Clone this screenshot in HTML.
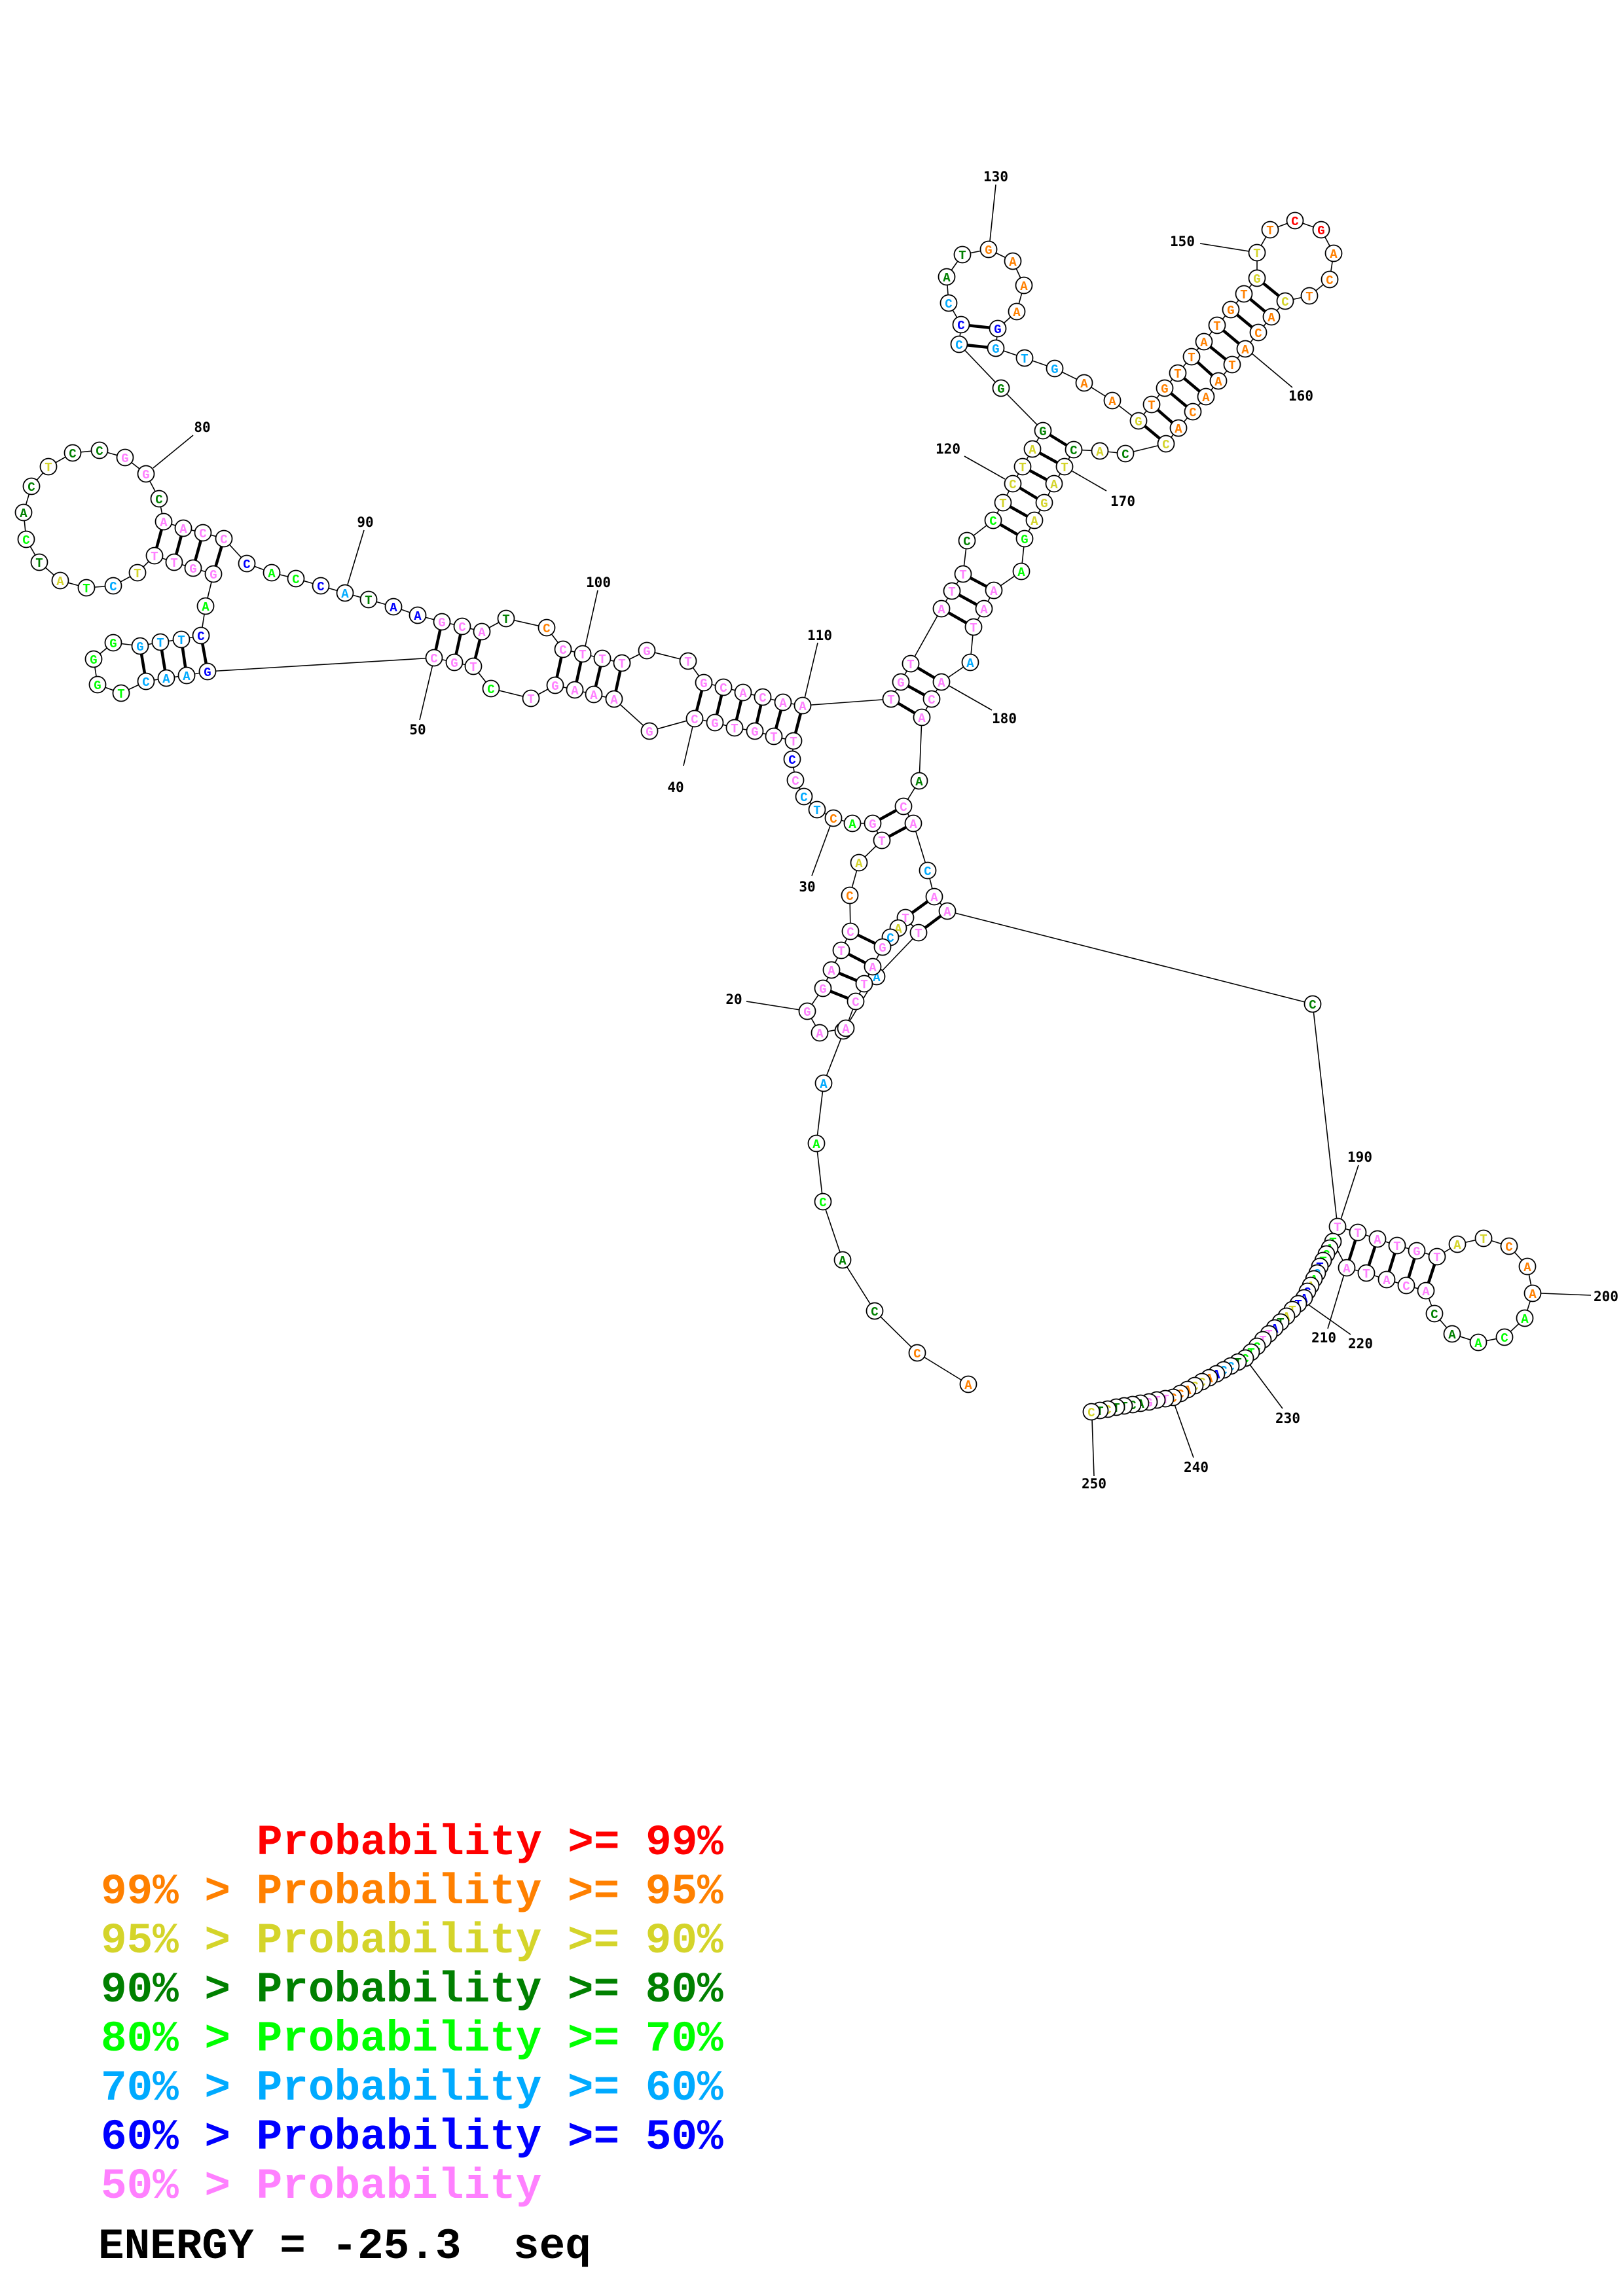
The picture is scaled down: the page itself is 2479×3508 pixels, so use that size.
<!DOCTYPE html>
<html><head><meta charset="utf-8"><style>
html,body{margin:0;padding:0;background:#fff}
svg{display:block}
.n{fill:#fff;stroke:#000;stroke-width:1.8}
.t{font-family:"Liberation Mono",monospace;font-weight:bold;font-size:19px;text-anchor:middle}
.lb{font-family:"DejaVu Sans Mono","Liberation Mono",monospace;font-weight:bold;font-size:21px;text-anchor:middle}
.lg{font-family:"Liberation Mono",monospace;font-weight:bold;font-size:66px;white-space:pre}
.r{fill:#ff0000}.o{fill:#ff8000}.y{fill:#d4d42a}.d{fill:#008000}.g{fill:#00ff00}.l{fill:#00aaff}.b{fill:#0000ff}.p{fill:#ff80ff}
</style></head><body>
<svg width="2479" height="3508" viewBox="0 0 2479 3508" xmlns="http://www.w3.org/2000/svg">
<rect width="2479" height="3508" fill="#fff"/>
<polyline fill="none" stroke="#000" stroke-width="1.6" points="1479,2115 1401,2067 1336,2003 1287,1925 1257,1836 1247,1747 1258,1655 1290,1573 1339,1492 1403,1425 1383,1402 1372,1418 1360,1432 1348,1447 1333,1477 1320,1503 1307,1530 1292,1571 1252,1578 1233,1545 1257,1510 1270,1482 1285,1452 1299,1423 1298,1368 1312,1318 1347,1284 1333,1258 1302,1258 1273,1250 1248,1237 1228,1217 1215,1192 1210,1160 1212,1132 1182,1125 1153,1117 1122,1112 1092,1104 1061,1098 992,1117 938,1068 907,1061 878,1054 848,1047 811,1067 750,1052 723,1018 694,1012 663,1005 317,1026 285,1032 254,1036 223,1041 185,1059 149,1046 143,1007 173,982 214,987 245,981 277,977 307,971 314,926 326,877 295,868 266,859 236,849 210,875 173,895 132,898 92,887 60,859 40,824 36,783 48,743 74,713 111,692 152,688 191,699 223,724 243,762 250,797 280,807 310,814 342,823 377,861 415,875 452,884 490,895 527,906 563,916 601,927 638,940 675,950 706,957 736,965 773,945 835,959 860,992 890,999 920,1006 950,1013 988,994 1051,1010 1075,1043 1105,1050 1135,1058 1165,1065 1196,1073 1226,1078 1361,1068 1376,1042 1391,1014 1438,930 1454,903 1471,877 1477,826 1517,795 1532,768 1547,739 1562,713 1577,686 1593,658 1529,593 1465,526 1468,496 1449,463 1446,423 1470,389 1510,381 1547,399 1564,436 1553,476 1524,502 1521,532 1565,547 1611,563 1656,585 1699,612 1739,643 1759,618 1779,593 1799,570 1820,545 1839,522 1859,497 1880,473 1900,449 1920,425 1920,386 1940,351 1978,337 2018,351 2037,387 2031,427 2000,452 1963,460 1942,484 1922,508 1902,533 1882,557 1861,582 1842,606 1822,629 1800,654 1781,678 1719,693 1680,689 1640,687 1626,713 1610,739 1595,768 1580,795 1565,823 1560,873 1518,902 1503,930 1487,958 1482,1012 1438,1042 1423,1068 1408,1096 1404,1193 1380,1232 1395,1258 1417,1330 1427,1370 1447,1392 2005,1534 2043,1874 2074,1883 2104,1893 2134,1903 2164,1911 2195,1920 2226,1901 2266,1892 2305,1904 2333,1935 2341,1976 2329,2014 2298,2043 2258,2051 2218,2038 2191,2007 2178,1972 2148,1964 2118,1955 2087,1945 2057,1937 2036,1897 2031,1907 2026,1916 2021,1926 2016,1935 2012,1945 2007,1954 2002,1964 1997,1973 1992,1983 1983,1992 1974,2001 1965,2011 1956,2020 1947,2029 1938,2038 1929,2047 1920,2057 1911,2066 1902,2075 1891,2081 1880,2087 1869,2093 1858,2099 1847,2105 1836,2111 1825,2117 1814,2123 1803,2129 1792,2135 1780,2137 1767,2139 1755,2142 1742,2144 1730,2146 1717,2148 1705,2150 1692,2153 1680,2155 1667,2157"/>
<g stroke="#000" stroke-width="4.5">
<line x1="1403" y1="1425" x2="1447" y2="1392"/><line x1="1383" y1="1402" x2="1427" y2="1370"/>
<line x1="1348" y1="1447" x2="1299" y2="1423"/><line x1="1333" y1="1477" x2="1285" y2="1452"/><line x1="1320" y1="1503" x2="1270" y2="1482"/><line x1="1307" y1="1530" x2="1257" y2="1510"/>
<line x1="1347" y1="1284" x2="1395" y2="1258"/><line x1="1333" y1="1258" x2="1380" y2="1232"/>
<line x1="1212" y1="1132" x2="1226" y2="1078"/><line x1="1182" y1="1125" x2="1196" y2="1073"/><line x1="1153" y1="1117" x2="1165" y2="1065"/><line x1="1122" y1="1112" x2="1135" y2="1058"/><line x1="1092" y1="1104" x2="1105" y2="1050"/><line x1="1061" y1="1098" x2="1075" y2="1043"/>
<line x1="938" y1="1068" x2="950" y2="1013"/><line x1="907" y1="1061" x2="920" y2="1006"/><line x1="878" y1="1054" x2="890" y2="999"/><line x1="848" y1="1047" x2="860" y2="992"/>
<line x1="723" y1="1018" x2="736" y2="965"/><line x1="694" y1="1012" x2="706" y2="957"/><line x1="663" y1="1005" x2="675" y2="950"/>
<line x1="317" y1="1026" x2="307" y2="971"/><line x1="285" y1="1032" x2="277" y2="977"/><line x1="254" y1="1036" x2="245" y2="981"/><line x1="223" y1="1041" x2="214" y2="987"/>
<line x1="326" y1="877" x2="342" y2="823"/><line x1="295" y1="868" x2="310" y2="814"/><line x1="266" y1="859" x2="280" y2="807"/><line x1="236" y1="849" x2="250" y2="797"/>
<line x1="1361" y1="1068" x2="1408" y2="1096"/><line x1="1376" y1="1042" x2="1423" y2="1068"/><line x1="1391" y1="1014" x2="1438" y2="1042"/>
<line x1="1438" y1="930" x2="1487" y2="958"/><line x1="1454" y1="903" x2="1503" y2="930"/><line x1="1471" y1="877" x2="1518" y2="902"/>
<line x1="1517" y1="795" x2="1565" y2="823"/><line x1="1532" y1="768" x2="1580" y2="795"/><line x1="1547" y1="739" x2="1595" y2="768"/><line x1="1562" y1="713" x2="1610" y2="739"/><line x1="1577" y1="686" x2="1626" y2="713"/><line x1="1593" y1="658" x2="1640" y2="687"/>
<line x1="1465" y1="526" x2="1521" y2="532"/><line x1="1468" y1="496" x2="1524" y2="502"/>
<line x1="1739" y1="643" x2="1781" y2="678"/><line x1="1759" y1="618" x2="1800" y2="654"/><line x1="1779" y1="593" x2="1822" y2="629"/><line x1="1799" y1="570" x2="1842" y2="606"/><line x1="1820" y1="545" x2="1861" y2="582"/><line x1="1839" y1="522" x2="1882" y2="557"/><line x1="1859" y1="497" x2="1902" y2="533"/><line x1="1880" y1="473" x2="1922" y2="508"/><line x1="1900" y1="449" x2="1942" y2="484"/><line x1="1920" y1="425" x2="1963" y2="460"/>
<line x1="2074" y1="1883" x2="2057" y2="1937"/><line x1="2104" y1="1893" x2="2087" y2="1945"/><line x1="2134" y1="1903" x2="2118" y2="1955"/><line x1="2164" y1="1911" x2="2148" y2="1964"/><line x1="2195" y1="1920" x2="2178" y2="1972"/>
</g>
<g stroke="#000" stroke-width="1.6">
<line x1="1140" y1="1530" x2="1222" y2="1543"/><line x1="1240" y1="1338" x2="1268" y2="1262"/><line x1="1044" y1="1170" x2="1058" y2="1110"/><line x1="641" y1="1100" x2="661" y2="1015"/><line x1="295" y1="665" x2="234" y2="715"/><line x1="556" y1="810" x2="531" y2="893"/><line x1="913" y1="902" x2="894" y2="987"/><line x1="1249" y1="982" x2="1229" y2="1067"/><line x1="1473" y1="697" x2="1535" y2="732"/><line x1="1521" y1="282" x2="1512" y2="368"/><line x1="1833" y1="372" x2="1908" y2="384"/><line x1="1912" y1="540" x2="1974" y2="592"/><line x1="1638" y1="720" x2="1690" y2="750"/><line x1="1450" y1="1048" x2="1515" y2="1085"/><line x1="2075" y1="1780" x2="2048" y2="1863"/><line x1="2354" y1="1976" x2="2430" y2="1979"/><line x1="2053" y1="1947" x2="2028" y2="2030"/><line x1="1998" y1="1993" x2="2063" y2="2039"/><line x1="1909" y1="2085" x2="1959" y2="2152"/><line x1="1794" y1="2146" x2="1823" y2="2227"/><line x1="1668" y1="2168" x2="1671" y2="2255"/>
</g>
<g class="t">
<circle class="n" cx="1479" cy="2115" r="12.5"/><text x="1479" y="2122" class="o">A</text>
<circle class="n" cx="1401" cy="2067" r="12.5"/><text x="1401" y="2074" class="o">C</text>
<circle class="n" cx="1336" cy="2003" r="12.5"/><text x="1336" y="2010" class="d">C</text>
<circle class="n" cx="1287" cy="1925" r="12.5"/><text x="1287" y="1932" class="d">A</text>
<circle class="n" cx="1257" cy="1836" r="12.5"/><text x="1257" y="1843" class="g">C</text>
<circle class="n" cx="1247" cy="1747" r="12.5"/><text x="1247" y="1754" class="g">A</text>
<circle class="n" cx="1258" cy="1655" r="12.5"/><text x="1258" y="1662" class="l">A</text>
<circle class="n" cx="1288" cy="1575" r="12.5"/><text x="1288" y="1582" class="p">A</text>
<circle class="n" cx="1339" cy="1492" r="12.5"/><text x="1339" y="1499" class="l">A</text>
<circle class="n" cx="1403" cy="1425" r="12.5"/><text x="1403" y="1432" class="p">T</text>
<circle class="n" cx="1383" cy="1402" r="12.5"/><text x="1383" y="1409" class="p">T</text>
<circle class="n" cx="1372" cy="1418" r="12.5"/><text x="1372" y="1425" class="y">A</text>
<circle class="n" cx="1360" cy="1432" r="12.5"/><text x="1360" y="1439" class="l">C</text>
<circle class="n" cx="1348" cy="1447" r="12.5"/><text x="1348" y="1454" class="p">G</text>
<circle class="n" cx="1333" cy="1477" r="12.5"/><text x="1333" y="1484" class="p">A</text>
<circle class="n" cx="1320" cy="1503" r="12.5"/><text x="1320" y="1510" class="p">T</text>
<circle class="n" cx="1307" cy="1530" r="12.5"/><text x="1307" y="1537" class="p">C</text>
<circle class="n" cx="1292" cy="1571" r="12.5"/><text x="1292" y="1578" class="p">A</text>
<circle class="n" cx="1252" cy="1578" r="12.5"/><text x="1252" y="1585" class="p">A</text>
<circle class="n" cx="1233" cy="1545" r="12.5"/><text x="1233" y="1552" class="p">G</text>
<circle class="n" cx="1257" cy="1510" r="12.5"/><text x="1257" y="1517" class="p">G</text>
<circle class="n" cx="1270" cy="1482" r="12.5"/><text x="1270" y="1489" class="p">A</text>
<circle class="n" cx="1285" cy="1452" r="12.5"/><text x="1285" y="1459" class="p">T</text>
<circle class="n" cx="1299" cy="1423" r="12.5"/><text x="1299" y="1430" class="p">C</text>
<circle class="n" cx="1298" cy="1368" r="12.5"/><text x="1298" y="1375" class="o">C</text>
<circle class="n" cx="1312" cy="1318" r="12.5"/><text x="1312" y="1325" class="y">A</text>
<circle class="n" cx="1347" cy="1284" r="12.5"/><text x="1347" y="1291" class="p">T</text>
<circle class="n" cx="1333" cy="1258" r="12.5"/><text x="1333" y="1265" class="p">G</text>
<circle class="n" cx="1302" cy="1258" r="12.5"/><text x="1302" y="1265" class="g">A</text>
<circle class="n" cx="1273" cy="1250" r="12.5"/><text x="1273" y="1257" class="o">C</text>
<circle class="n" cx="1248" cy="1237" r="12.5"/><text x="1248" y="1244" class="l">T</text>
<circle class="n" cx="1228" cy="1217" r="12.5"/><text x="1228" y="1224" class="l">C</text>
<circle class="n" cx="1215" cy="1192" r="12.5"/><text x="1215" y="1199" class="p">C</text>
<circle class="n" cx="1210" cy="1160" r="12.5"/><text x="1210" y="1167" class="b">C</text>
<circle class="n" cx="1212" cy="1132" r="12.5"/><text x="1212" y="1139" class="p">T</text>
<circle class="n" cx="1182" cy="1125" r="12.5"/><text x="1182" y="1132" class="p">T</text>
<circle class="n" cx="1153" cy="1117" r="12.5"/><text x="1153" y="1124" class="p">G</text>
<circle class="n" cx="1122" cy="1112" r="12.5"/><text x="1122" y="1119" class="p">T</text>
<circle class="n" cx="1092" cy="1104" r="12.5"/><text x="1092" y="1111" class="p">G</text>
<circle class="n" cx="1061" cy="1098" r="12.5"/><text x="1061" y="1105" class="p">C</text>
<circle class="n" cx="992" cy="1117" r="12.5"/><text x="992" y="1124" class="p">G</text>
<circle class="n" cx="938" cy="1068" r="12.5"/><text x="938" y="1075" class="p">A</text>
<circle class="n" cx="907" cy="1061" r="12.5"/><text x="907" y="1068" class="p">A</text>
<circle class="n" cx="878" cy="1054" r="12.5"/><text x="878" y="1061" class="p">A</text>
<circle class="n" cx="848" cy="1047" r="12.5"/><text x="848" y="1054" class="p">G</text>
<circle class="n" cx="811" cy="1067" r="12.5"/><text x="811" y="1074" class="p">T</text>
<circle class="n" cx="750" cy="1052" r="12.5"/><text x="750" y="1059" class="g">C</text>
<circle class="n" cx="723" cy="1018" r="12.5"/><text x="723" y="1025" class="p">T</text>
<circle class="n" cx="694" cy="1012" r="12.5"/><text x="694" y="1019" class="p">G</text>
<circle class="n" cx="663" cy="1005" r="12.5"/><text x="663" y="1012" class="p">C</text>
<circle class="n" cx="317" cy="1026" r="12.5"/><text x="317" y="1033" class="b">G</text>
<circle class="n" cx="285" cy="1032" r="12.5"/><text x="285" y="1039" class="l">A</text>
<circle class="n" cx="254" cy="1036" r="12.5"/><text x="254" y="1043" class="l">A</text>
<circle class="n" cx="223" cy="1041" r="12.5"/><text x="223" y="1048" class="l">C</text>
<circle class="n" cx="185" cy="1059" r="12.5"/><text x="185" y="1066" class="g">T</text>
<circle class="n" cx="149" cy="1046" r="12.5"/><text x="149" y="1053" class="g">G</text>
<circle class="n" cx="143" cy="1007" r="12.5"/><text x="143" y="1014" class="g">G</text>
<circle class="n" cx="173" cy="982" r="12.5"/><text x="173" y="989" class="g">G</text>
<circle class="n" cx="214" cy="987" r="12.5"/><text x="214" y="994" class="l">G</text>
<circle class="n" cx="245" cy="981" r="12.5"/><text x="245" y="988" class="l">T</text>
<circle class="n" cx="277" cy="977" r="12.5"/><text x="277" y="984" class="l">T</text>
<circle class="n" cx="307" cy="971" r="12.5"/><text x="307" y="978" class="b">C</text>
<circle class="n" cx="314" cy="926" r="12.5"/><text x="314" y="933" class="g">A</text>
<circle class="n" cx="326" cy="877" r="12.5"/><text x="326" y="884" class="p">G</text>
<circle class="n" cx="295" cy="868" r="12.5"/><text x="295" y="875" class="p">G</text>
<circle class="n" cx="266" cy="859" r="12.5"/><text x="266" y="866" class="p">T</text>
<circle class="n" cx="236" cy="849" r="12.5"/><text x="236" y="856" class="p">T</text>
<circle class="n" cx="210" cy="875" r="12.5"/><text x="210" y="882" class="y">T</text>
<circle class="n" cx="173" cy="895" r="12.5"/><text x="173" y="902" class="l">C</text>
<circle class="n" cx="132" cy="898" r="12.5"/><text x="132" y="905" class="g">T</text>
<circle class="n" cx="92" cy="887" r="12.5"/><text x="92" y="894" class="y">A</text>
<circle class="n" cx="60" cy="859" r="12.5"/><text x="60" y="866" class="d">T</text>
<circle class="n" cx="40" cy="824" r="12.5"/><text x="40" y="831" class="g">C</text>
<circle class="n" cx="36" cy="783" r="12.5"/><text x="36" y="790" class="d">A</text>
<circle class="n" cx="48" cy="743" r="12.5"/><text x="48" y="750" class="d">C</text>
<circle class="n" cx="74" cy="713" r="12.5"/><text x="74" y="720" class="y">T</text>
<circle class="n" cx="111" cy="692" r="12.5"/><text x="111" y="699" class="d">C</text>
<circle class="n" cx="152" cy="688" r="12.5"/><text x="152" y="695" class="d">C</text>
<circle class="n" cx="191" cy="699" r="12.5"/><text x="191" y="706" class="p">G</text>
<circle class="n" cx="223" cy="724" r="12.5"/><text x="223" y="731" class="p">G</text>
<circle class="n" cx="243" cy="762" r="12.5"/><text x="243" y="769" class="d">C</text>
<circle class="n" cx="250" cy="797" r="12.5"/><text x="250" y="804" class="p">A</text>
<circle class="n" cx="280" cy="807" r="12.5"/><text x="280" y="814" class="p">A</text>
<circle class="n" cx="310" cy="814" r="12.5"/><text x="310" y="821" class="p">C</text>
<circle class="n" cx="342" cy="823" r="12.5"/><text x="342" y="830" class="p">C</text>
<circle class="n" cx="377" cy="861" r="12.5"/><text x="377" y="868" class="b">C</text>
<circle class="n" cx="415" cy="875" r="12.5"/><text x="415" y="882" class="g">A</text>
<circle class="n" cx="452" cy="884" r="12.5"/><text x="452" y="891" class="g">C</text>
<circle class="n" cx="490" cy="895" r="12.5"/><text x="490" y="902" class="b">C</text>
<circle class="n" cx="527" cy="906" r="12.5"/><text x="527" y="913" class="l">A</text>
<circle class="n" cx="563" cy="916" r="12.5"/><text x="563" y="923" class="d">T</text>
<circle class="n" cx="601" cy="927" r="12.5"/><text x="601" y="934" class="b">A</text>
<circle class="n" cx="638" cy="940" r="12.5"/><text x="638" y="947" class="b">A</text>
<circle class="n" cx="675" cy="950" r="12.5"/><text x="675" y="957" class="p">G</text>
<circle class="n" cx="706" cy="957" r="12.5"/><text x="706" y="964" class="p">C</text>
<circle class="n" cx="736" cy="965" r="12.5"/><text x="736" y="972" class="p">A</text>
<circle class="n" cx="773" cy="945" r="12.5"/><text x="773" y="952" class="d">T</text>
<circle class="n" cx="835" cy="959" r="12.5"/><text x="835" y="966" class="o">C</text>
<circle class="n" cx="860" cy="992" r="12.5"/><text x="860" y="999" class="p">C</text>
<circle class="n" cx="890" cy="999" r="12.5"/><text x="890" y="1006" class="p">T</text>
<circle class="n" cx="920" cy="1006" r="12.5"/><text x="920" y="1013" class="p">T</text>
<circle class="n" cx="950" cy="1013" r="12.5"/><text x="950" y="1020" class="p">T</text>
<circle class="n" cx="988" cy="994" r="12.5"/><text x="988" y="1001" class="p">G</text>
<circle class="n" cx="1051" cy="1010" r="12.5"/><text x="1051" y="1017" class="p">T</text>
<circle class="n" cx="1075" cy="1043" r="12.5"/><text x="1075" y="1050" class="p">G</text>
<circle class="n" cx="1105" cy="1050" r="12.5"/><text x="1105" y="1057" class="p">C</text>
<circle class="n" cx="1135" cy="1058" r="12.5"/><text x="1135" y="1065" class="p">A</text>
<circle class="n" cx="1165" cy="1065" r="12.5"/><text x="1165" y="1072" class="p">C</text>
<circle class="n" cx="1196" cy="1073" r="12.5"/><text x="1196" y="1080" class="p">A</text>
<circle class="n" cx="1226" cy="1078" r="12.5"/><text x="1226" y="1085" class="p">A</text>
<circle class="n" cx="1361" cy="1068" r="12.5"/><text x="1361" y="1075" class="p">T</text>
<circle class="n" cx="1376" cy="1042" r="12.5"/><text x="1376" y="1049" class="p">G</text>
<circle class="n" cx="1391" cy="1014" r="12.5"/><text x="1391" y="1021" class="p">T</text>
<circle class="n" cx="1438" cy="930" r="12.5"/><text x="1438" y="937" class="p">A</text>
<circle class="n" cx="1454" cy="903" r="12.5"/><text x="1454" y="910" class="p">T</text>
<circle class="n" cx="1471" cy="877" r="12.5"/><text x="1471" y="884" class="p">T</text>
<circle class="n" cx="1477" cy="826" r="12.5"/><text x="1477" y="833" class="d">C</text>
<circle class="n" cx="1517" cy="795" r="12.5"/><text x="1517" y="802" class="g">C</text>
<circle class="n" cx="1532" cy="768" r="12.5"/><text x="1532" y="775" class="y">T</text>
<circle class="n" cx="1547" cy="739" r="12.5"/><text x="1547" y="746" class="y">C</text>
<circle class="n" cx="1562" cy="713" r="12.5"/><text x="1562" y="720" class="y">T</text>
<circle class="n" cx="1577" cy="686" r="12.5"/><text x="1577" y="693" class="y">A</text>
<circle class="n" cx="1593" cy="658" r="12.5"/><text x="1593" y="665" class="d">G</text>
<circle class="n" cx="1529" cy="593" r="12.5"/><text x="1529" y="600" class="d">G</text>
<circle class="n" cx="1465" cy="526" r="12.5"/><text x="1465" y="533" class="l">C</text>
<circle class="n" cx="1468" cy="496" r="12.5"/><text x="1468" y="503" class="b">C</text>
<circle class="n" cx="1449" cy="463" r="12.5"/><text x="1449" y="470" class="l">C</text>
<circle class="n" cx="1446" cy="423" r="12.5"/><text x="1446" y="430" class="d">A</text>
<circle class="n" cx="1470" cy="389" r="12.5"/><text x="1470" y="396" class="d">T</text>
<circle class="n" cx="1510" cy="381" r="12.5"/><text x="1510" y="388" class="o">G</text>
<circle class="n" cx="1547" cy="399" r="12.5"/><text x="1547" y="406" class="o">A</text>
<circle class="n" cx="1564" cy="436" r="12.5"/><text x="1564" y="443" class="o">A</text>
<circle class="n" cx="1553" cy="476" r="12.5"/><text x="1553" y="483" class="o">A</text>
<circle class="n" cx="1524" cy="502" r="12.5"/><text x="1524" y="509" class="b">G</text>
<circle class="n" cx="1521" cy="532" r="12.5"/><text x="1521" y="539" class="l">G</text>
<circle class="n" cx="1565" cy="547" r="12.5"/><text x="1565" y="554" class="l">T</text>
<circle class="n" cx="1611" cy="563" r="12.5"/><text x="1611" y="570" class="l">G</text>
<circle class="n" cx="1656" cy="585" r="12.5"/><text x="1656" y="592" class="o">A</text>
<circle class="n" cx="1699" cy="612" r="12.5"/><text x="1699" y="619" class="o">A</text>
<circle class="n" cx="1739" cy="643" r="12.5"/><text x="1739" y="650" class="y">G</text>
<circle class="n" cx="1759" cy="618" r="12.5"/><text x="1759" y="625" class="o">T</text>
<circle class="n" cx="1779" cy="593" r="12.5"/><text x="1779" y="600" class="o">G</text>
<circle class="n" cx="1799" cy="570" r="12.5"/><text x="1799" y="577" class="o">T</text>
<circle class="n" cx="1820" cy="545" r="12.5"/><text x="1820" y="552" class="o">T</text>
<circle class="n" cx="1839" cy="522" r="12.5"/><text x="1839" y="529" class="o">A</text>
<circle class="n" cx="1859" cy="497" r="12.5"/><text x="1859" y="504" class="o">T</text>
<circle class="n" cx="1880" cy="473" r="12.5"/><text x="1880" y="480" class="o">G</text>
<circle class="n" cx="1900" cy="449" r="12.5"/><text x="1900" y="456" class="o">T</text>
<circle class="n" cx="1920" cy="425" r="12.5"/><text x="1920" y="432" class="y">G</text>
<circle class="n" cx="1920" cy="386" r="12.5"/><text x="1920" y="393" class="y">T</text>
<circle class="n" cx="1940" cy="351" r="12.5"/><text x="1940" y="358" class="o">T</text>
<circle class="n" cx="1978" cy="337" r="12.5"/><text x="1978" y="344" class="r">C</text>
<circle class="n" cx="2018" cy="351" r="12.5"/><text x="2018" y="358" class="r">G</text>
<circle class="n" cx="2037" cy="387" r="12.5"/><text x="2037" y="394" class="o">A</text>
<circle class="n" cx="2031" cy="427" r="12.5"/><text x="2031" y="434" class="o">C</text>
<circle class="n" cx="2000" cy="452" r="12.5"/><text x="2000" y="459" class="o">T</text>
<circle class="n" cx="1963" cy="460" r="12.5"/><text x="1963" y="467" class="y">C</text>
<circle class="n" cx="1942" cy="484" r="12.5"/><text x="1942" y="491" class="o">A</text>
<circle class="n" cx="1922" cy="508" r="12.5"/><text x="1922" y="515" class="o">C</text>
<circle class="n" cx="1902" cy="533" r="12.5"/><text x="1902" y="540" class="o">A</text>
<circle class="n" cx="1882" cy="557" r="12.5"/><text x="1882" y="564" class="o">T</text>
<circle class="n" cx="1861" cy="582" r="12.5"/><text x="1861" y="589" class="o">A</text>
<circle class="n" cx="1842" cy="606" r="12.5"/><text x="1842" y="613" class="o">A</text>
<circle class="n" cx="1822" cy="629" r="12.5"/><text x="1822" y="636" class="o">C</text>
<circle class="n" cx="1800" cy="654" r="12.5"/><text x="1800" y="661" class="o">A</text>
<circle class="n" cx="1781" cy="678" r="12.5"/><text x="1781" y="685" class="y">C</text>
<circle class="n" cx="1719" cy="693" r="12.5"/><text x="1719" y="700" class="d">C</text>
<circle class="n" cx="1680" cy="689" r="12.5"/><text x="1680" y="696" class="y">A</text>
<circle class="n" cx="1640" cy="687" r="12.5"/><text x="1640" y="694" class="d">C</text>
<circle class="n" cx="1626" cy="713" r="12.5"/><text x="1626" y="720" class="y">T</text>
<circle class="n" cx="1610" cy="739" r="12.5"/><text x="1610" y="746" class="y">A</text>
<circle class="n" cx="1595" cy="768" r="12.5"/><text x="1595" y="775" class="y">G</text>
<circle class="n" cx="1580" cy="795" r="12.5"/><text x="1580" y="802" class="y">A</text>
<circle class="n" cx="1565" cy="823" r="12.5"/><text x="1565" y="830" class="g">G</text>
<circle class="n" cx="1560" cy="873" r="12.5"/><text x="1560" y="880" class="g">A</text>
<circle class="n" cx="1518" cy="902" r="12.5"/><text x="1518" y="909" class="p">A</text>
<circle class="n" cx="1503" cy="930" r="12.5"/><text x="1503" y="937" class="p">A</text>
<circle class="n" cx="1487" cy="958" r="12.5"/><text x="1487" y="965" class="p">T</text>
<circle class="n" cx="1482" cy="1012" r="12.5"/><text x="1482" y="1019" class="l">A</text>
<circle class="n" cx="1438" cy="1042" r="12.5"/><text x="1438" y="1049" class="p">A</text>
<circle class="n" cx="1423" cy="1068" r="12.5"/><text x="1423" y="1075" class="p">C</text>
<circle class="n" cx="1408" cy="1096" r="12.5"/><text x="1408" y="1103" class="p">A</text>
<circle class="n" cx="1404" cy="1193" r="12.5"/><text x="1404" y="1200" class="d">A</text>
<circle class="n" cx="1380" cy="1232" r="12.5"/><text x="1380" y="1239" class="p">C</text>
<circle class="n" cx="1395" cy="1258" r="12.5"/><text x="1395" y="1265" class="p">A</text>
<circle class="n" cx="1417" cy="1330" r="12.5"/><text x="1417" y="1337" class="l">C</text>
<circle class="n" cx="1427" cy="1370" r="12.5"/><text x="1427" y="1377" class="p">A</text>
<circle class="n" cx="1447" cy="1392" r="12.5"/><text x="1447" y="1399" class="p">A</text>
<circle class="n" cx="2005" cy="1534" r="12.5"/><text x="2005" y="1541" class="d">C</text>
<circle class="n" cx="2043" cy="1874" r="12.5"/><text x="2043" y="1881" class="p">T</text>
<circle class="n" cx="2074" cy="1883" r="12.5"/><text x="2074" y="1890" class="p">T</text>
<circle class="n" cx="2104" cy="1893" r="12.5"/><text x="2104" y="1900" class="p">A</text>
<circle class="n" cx="2134" cy="1903" r="12.5"/><text x="2134" y="1910" class="p">T</text>
<circle class="n" cx="2164" cy="1911" r="12.5"/><text x="2164" y="1918" class="p">G</text>
<circle class="n" cx="2195" cy="1920" r="12.5"/><text x="2195" y="1927" class="p">T</text>
<circle class="n" cx="2226" cy="1901" r="12.5"/><text x="2226" y="1908" class="y">A</text>
<circle class="n" cx="2266" cy="1892" r="12.5"/><text x="2266" y="1899" class="y">T</text>
<circle class="n" cx="2305" cy="1904" r="12.5"/><text x="2305" y="1911" class="o">C</text>
<circle class="n" cx="2333" cy="1935" r="12.5"/><text x="2333" y="1942" class="o">A</text>
<circle class="n" cx="2341" cy="1976" r="12.5"/><text x="2341" y="1983" class="o">A</text>
<circle class="n" cx="2329" cy="2014" r="12.5"/><text x="2329" y="2021" class="g">A</text>
<circle class="n" cx="2298" cy="2043" r="12.5"/><text x="2298" y="2050" class="g">C</text>
<circle class="n" cx="2258" cy="2051" r="12.5"/><text x="2258" y="2058" class="g">A</text>
<circle class="n" cx="2218" cy="2038" r="12.5"/><text x="2218" y="2045" class="d">A</text>
<circle class="n" cx="2191" cy="2007" r="12.5"/><text x="2191" y="2014" class="d">C</text>
<circle class="n" cx="2178" cy="1972" r="12.5"/><text x="2178" y="1979" class="p">A</text>
<circle class="n" cx="2148" cy="1964" r="12.5"/><text x="2148" y="1971" class="p">C</text>
<circle class="n" cx="2118" cy="1955" r="12.5"/><text x="2118" y="1962" class="p">A</text>
<circle class="n" cx="2087" cy="1945" r="12.5"/><text x="2087" y="1952" class="p">T</text>
<circle class="n" cx="2057" cy="1937" r="12.5"/><text x="2057" y="1944" class="p">A</text>
<circle class="n" cx="2036" cy="1897" r="12.5"/><text x="2036" y="1904" class="g">T</text>
<circle class="n" cx="2031" cy="1907" r="12.5"/><text x="2031" y="1914" class="g">A</text>
<circle class="n" cx="2026" cy="1916" r="12.5"/><text x="2026" y="1923" class="g">C</text>
<circle class="n" cx="2021" cy="1926" r="12.5"/><text x="2021" y="1933" class="g">T</text>
<circle class="n" cx="2016" cy="1935" r="12.5"/><text x="2016" y="1942" class="b">T</text>
<circle class="n" cx="2012" cy="1945" r="12.5"/><text x="2012" y="1952" class="l">C</text>
<circle class="n" cx="2007" cy="1954" r="12.5"/><text x="2007" y="1961" class="g">A</text>
<circle class="n" cx="2002" cy="1964" r="12.5"/><text x="2002" y="1971" class="y">A</text>
<circle class="n" cx="1997" cy="1973" r="12.5"/><text x="1997" y="1980" class="b">C</text>
<circle class="n" cx="1992" cy="1983" r="12.5"/><text x="1992" y="1990" class="b">A</text>
<circle class="n" cx="1983" cy="1992" r="12.5"/><text x="1983" y="1999" class="b">T</text>
<circle class="n" cx="1974" cy="2001" r="12.5"/><text x="1974" y="2008" class="y">T</text>
<circle class="n" cx="1965" cy="2011" r="12.5"/><text x="1965" y="2018" class="y">A</text>
<circle class="n" cx="1956" cy="2020" r="12.5"/><text x="1956" y="2027" class="d">T</text>
<circle class="n" cx="1947" cy="2029" r="12.5"/><text x="1947" y="2036" class="b">A</text>
<circle class="n" cx="1938" cy="2038" r="12.5"/><text x="1938" y="2045" class="p">T</text>
<circle class="n" cx="1929" cy="2047" r="12.5"/><text x="1929" y="2054" class="p">T</text>
<circle class="n" cx="1920" cy="2057" r="12.5"/><text x="1920" y="2064" class="g">C</text>
<circle class="n" cx="1911" cy="2066" r="12.5"/><text x="1911" y="2073" class="g">T</text>
<circle class="n" cx="1902" cy="2075" r="12.5"/><text x="1902" y="2082" class="g">C</text>
<circle class="n" cx="1891" cy="2081" r="12.5"/><text x="1891" y="2088" class="d">T</text>
<circle class="n" cx="1880" cy="2087" r="12.5"/><text x="1880" y="2094" class="l">C</text>
<circle class="n" cx="1869" cy="2093" r="12.5"/><text x="1869" y="2100" class="l">C</text>
<circle class="n" cx="1858" cy="2099" r="12.5"/><text x="1858" y="2106" class="b">A</text>
<circle class="n" cx="1847" cy="2105" r="12.5"/><text x="1847" y="2112" class="o">A</text>
<circle class="n" cx="1836" cy="2111" r="12.5"/><text x="1836" y="2118" class="y">C</text>
<circle class="n" cx="1825" cy="2117" r="12.5"/><text x="1825" y="2124" class="y">C</text>
<circle class="n" cx="1814" cy="2123" r="12.5"/><text x="1814" y="2130" class="o">A</text>
<circle class="n" cx="1803" cy="2129" r="12.5"/><text x="1803" y="2136" class="o">C</text>
<circle class="n" cx="1792" cy="2135" r="12.5"/><text x="1792" y="2142" class="o">C</text>
<circle class="n" cx="1780" cy="2137" r="12.5"/><text x="1780" y="2144" class="p">T</text>
<circle class="n" cx="1767" cy="2139" r="12.5"/><text x="1767" y="2146" class="p">T</text>
<circle class="n" cx="1755" cy="2142" r="12.5"/><text x="1755" y="2149" class="p">G</text>
<circle class="n" cx="1742" cy="2144" r="12.5"/><text x="1742" y="2151" class="d">A</text>
<circle class="n" cx="1730" cy="2146" r="12.5"/><text x="1730" y="2153" class="d">C</text>
<circle class="n" cx="1717" cy="2148" r="12.5"/><text x="1717" y="2155" class="d">T</text>
<circle class="n" cx="1705" cy="2150" r="12.5"/><text x="1705" y="2157" class="d">T</text>
<circle class="n" cx="1692" cy="2153" r="12.5"/><text x="1692" y="2160" class="y">C</text>
<circle class="n" cx="1680" cy="2155" r="12.5"/><text x="1680" y="2162" class="d">T</text>
<circle class="n" cx="1667" cy="2157" r="12.5"/><text x="1667" y="2164" class="y">C</text>
</g>
<g class="lb">
<text x="1121" y="1534">20</text><text x="1233" y="1362">30</text><text x="1032" y="1210">40</text><text x="638" y="1122">50</text><text x="309" y="660">80</text><text x="558" y="805">90</text><text x="914" y="897">100</text><text x="1252" y="978">110</text><text x="1448" y="693">120</text><text x="1521" y="277">130</text><text x="1806" y="376">150</text><text x="1987" y="612">160</text><text x="1715" y="773">170</text><text x="1534" y="1105">180</text><text x="2077" y="1775">190</text><text x="2453" y="1988">200</text><text x="2022" y="2051">210</text><text x="2078" y="2060">220</text><text x="1967" y="2174">230</text><text x="1827" y="2249">240</text><text x="1671" y="2274">250</text>
</g>
<g class="lg">
<text x="392" y="2833" class="r">Probability &gt;= 99%</text>
<text x="154" y="2908" class="o">99% &gt; Probability &gt;= 95%</text>
<text x="154" y="2983" class="y">95% &gt; Probability &gt;= 90%</text>
<text x="154" y="3058" class="d">90% &gt; Probability &gt;= 80%</text>
<text x="154" y="3133" class="g">80% &gt; Probability &gt;= 70%</text>
<text x="154" y="3208" class="l">70% &gt; Probability &gt;= 60%</text>
<text x="154" y="3283" class="b">60% &gt; Probability &gt;= 50%</text>
<text x="154" y="3358" class="p">50% &gt; Probability</text>
<text x="150" y="3450" fill="#000">ENERGY = -25.3</text>
<text x="784" y="3450" fill="#000">seq</text>
</g>
</svg>
</body></html>
